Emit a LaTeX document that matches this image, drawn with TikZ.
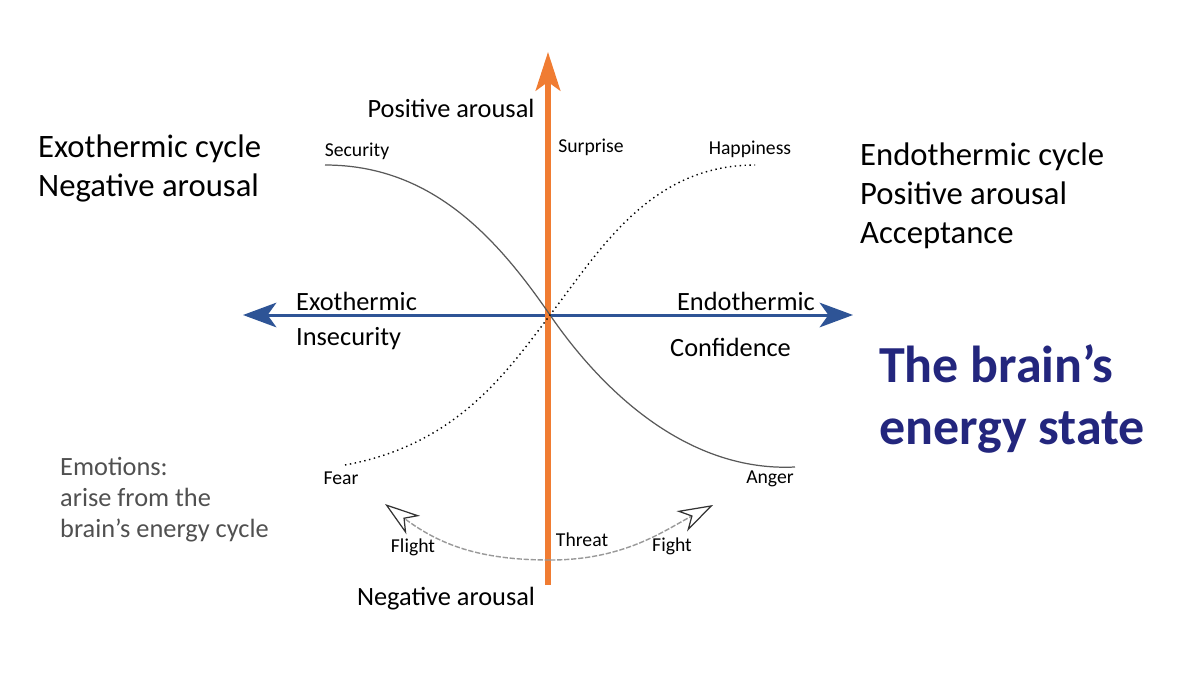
\documentclass[tikz,border=0pt]{standalone}
\usepackage{fontspec}
\setmainfont{Carlito}
\usepackage{tikz}
\usetikzlibrary{arrows.meta, positioning}

\definecolor{arrowblue}{RGB}{46,84,150}
\definecolor{arroworange}{RGB}{240,124,50}
\definecolor{titlenavy}{RGB}{35,38,125}
\definecolor{notegray}{RGB}{80,80,80}

\begin{document}
\begin{tikzpicture}[
  x=0.02cm, y=-0.02cm,
  node distance=0.5cm,
  biglabel/.style={align=left, anchor=west, font=\fontsize{18.6}{22.2}\selectfont},
  axislabel/.style={font=\fontsize{15}{18}\selectfont},
  emolabel/.style={font=\fontsize{11.2}{13}\selectfont},
  sidearrow/.style={draw=arrowblue, line width=1.7pt, {Stealth[length=19pt, width=14pt, inset=5pt]}-{Stealth[length=19pt, width=14pt, inset=5pt]}, fill=arrowblue},
  uparrow/.style={draw=arroworange, line width=3pt, -{Stealth[length=22pt, width=14pt, inset=5pt, fill=arroworange]}},
  moodcurve/.style={draw=black!65, line width=0.7pt},
  dotcurve/.style={draw=black, line width=0.8pt, dotted},
  flee/.style={draw=black!40, line width=0.8pt, dash pattern=on 3pt off 1pt, -{Stealth[open, length=20pt, width=13pt, inset=6pt, black!80, line width=0.7pt]}}
]
  \useasboundingbox (0,0) rectangle (1187,674);

  % axes
  \coordinate (origin) at (550,315);
  \coordinate (west) at (243,315);
  \coordinate (east) at (853,315);
  \coordinate (bottom) at (548,585);
  \coordinate (top) at (548,52);
  \draw [sidearrow] (west) -- (east);
  \draw [uparrow] (bottom) -- (top);

  % emotion curves
  \coordinate (secure) at (325,165);
  \coordinate (angry) at (795,467);
  \coordinate (afraid) at (345,465);
  \coordinate (happy) at (755,165);
  \draw [moodcurve] (secure) .. controls (430,165) and (495,235) .. (origin)
                             .. controls (605,395) and (690,472) .. (angry);
  \draw [dotcurve] (afraid) .. controls (455,445) and (505,375) .. (origin)
                            .. controls (600,250) and (650,165) .. (happy);

  % threat responses
  \coordinate (low) at (550,560);
  \coordinate (flighttip) at (385,504);
  \coordinate (fighttip) at (713,505);
  \draw [flee] (low) .. controls (480,560) and (440,545) .. (flighttip);
  \draw [flee] (low) .. controls (625,560) and (665,530) .. (fighttip);

  % labels
  \node (posarousal) [axislabel] at (451,108) {Positive arousal};
  \node (negarousal) [axislabel] at (446,599) {Negative arousal};
  \node (exo) [axislabel, anchor=west] at (290,301) {Exothermic};
  \node (insecure) [axislabel, anchor=west] at (290,339) {Insecurity};
  \node (endo) [axislabel, anchor=east] at (821,301) {Endothermic};
  \node (confident) [axislabel, anchor=west] at (664,347) {Confidence};

  \node (security) [emolabel] at (357,151) {Security};
  \node (surprise) [emolabel] at (591,147) {Surprise};
  \node (happiness) [emolabel] at (750,149) {Happiness};
  \node (fear) [emolabel] at (341,478) {Fear};
  \node (anger) [emolabel] at (770,479) {Anger};
  \node (threat) [emolabel] at (582,540) {Threat};
  \node (flight) [emolabel] at (413,547) {Flight};
  \node (fight) [emolabel] at (672,546) {Fight};

  \node (exocycle) [biglabel] at (32,168) {Exothermic cycle\\Negative arousal};
  \node (endocycle) [biglabel] at (854,196) {Endothermic cycle\\Positive arousal\\Acceptance};
  \node (title) [anchor=west, align=left, text=titlenavy, font=\fontsize{29.6}{35.3}\selectfont\bfseries] at (873,399) {The brain’s\\energy state};
  \node (note) [anchor=west, align=left, text=notegray, font=\fontsize{15}{17.6}\selectfont] at (54,500) {Emotions:\\arise from the\\brain’s energy cycle};
\end{tikzpicture}
\end{document}
